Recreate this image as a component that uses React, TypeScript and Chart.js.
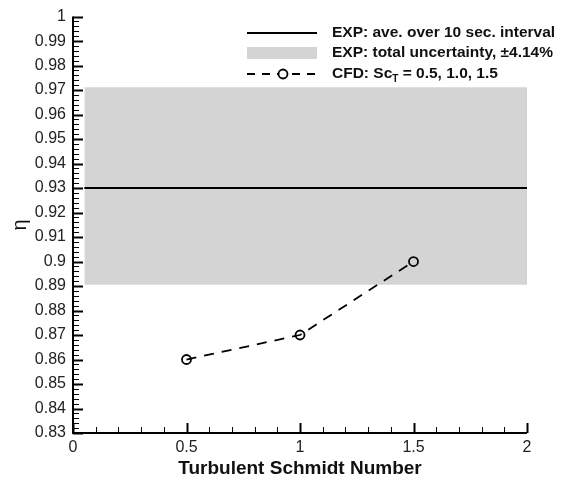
import React, { useEffect, useRef } from "react";
import { Chart, registerables } from "chart.js";

Chart.register(...registerables);

// ---- data ----
const schmidtNumbers = [0.5, 1.0, 1.5];
const cfdEta = [0.86, 0.87, 0.9];
const expMean = 0.93;
const expBandLow = 0.8905;
const expBandHigh = 0.9712;
const expXRange = [0.05, 2.0];
const xTicks = [0, 0.5, 1, 1.5, 2];
const yMin = 0.83;
const yMax = 1.0;
const yStep = 0.01;
const xStep = 0.5;
const yMinorPerMajor = 5;
const xMinorPerMajor = 5;
const legendLabels = [
  "EXP: ave. over 10 sec. interval",
  "EXP: total uncertainty, \u00b14.14%",
  "CFD: Sc",
];

const FONT = "'Liberation Sans', Arial, Helvetica, sans-serif";

const axesPlugin = {
  id: "customAxes",
  afterDatasetsDraw(chart: any) {
    const { ctx, chartArea, scales } = chart;
    const { left, right, top, bottom } = chartArea;
    const x = scales.x;
    const y = scales.y;
    ctx.save();
    ctx.strokeStyle = "#000";
    // y ticks
    const yn = Math.round((yMax - yMin) / yStep) * yMinorPerMajor;
    for (let i = 0; i <= yn; i++) {
      const v = yMin + (i * yStep) / yMinorPerMajor;
      const py = Math.round(y.getPixelForValue(v)) + 0.5;
      const major = i % yMinorPerMajor === 0;
      ctx.beginPath();
      ctx.lineWidth = major ? 2 : 1;
      ctx.moveTo(left, py);
      ctx.lineTo(left + (major ? 10 : 6), py);
      ctx.stroke();
    }
    const xn = Math.round((xTicks[xTicks.length - 1] - xTicks[0]) / xStep) * xMinorPerMajor;
    for (let i = 0; i <= xn; i++) {
      const v = xTicks[0] + (i * xStep) / xMinorPerMajor;
      const px = Math.round(x.getPixelForValue(v)) + 0.5;
      const major = i % xMinorPerMajor === 0;
      ctx.beginPath();
      ctx.lineWidth = major ? 2 : 1;
      ctx.moveTo(px, bottom);
      ctx.lineTo(px, bottom - (major ? 10 : 6));
      ctx.stroke();
    }
    // axis lines
    ctx.lineWidth = 2;
    ctx.beginPath();
    ctx.moveTo(left, top);
    ctx.lineTo(left, bottom);
    ctx.lineTo(right, bottom);
    ctx.stroke();

    // axis titles
    ctx.fillStyle = "#111";
    ctx.font = `bold 19px ${FONT}`;
    ctx.textAlign = "center";
    ctx.textBaseline = "middle";
    ctx.fillText("Turbulent Schmidt Number", (left + right) / 2, 469);
    ctx.save();
    ctx.translate(20, 225);
    ctx.rotate(-Math.PI / 2);
    ctx.font = `20px ${FONT}`;
    ctx.fillText("\u03b7", 0, 0);
    ctx.restore();

    // legend
    const sx0 = 247;
    const sx1 = 317;
    const tx = 332;
    const rows = [33, 53, 74];
    ctx.font = `bold 15.5px ${FONT}`;
    ctx.textAlign = "left";
    ctx.textBaseline = "middle";
    // row 1
    ctx.lineWidth = 2;
    ctx.setLineDash([]);
    ctx.beginPath();
    ctx.moveTo(sx0, rows[0]);
    ctx.lineTo(sx1, rows[0]);
    ctx.stroke();
    ctx.fillText(legendLabels[0], tx, rows[0]);
    // row 2
    ctx.fillStyle = "#d4d4d4";
    ctx.fillRect(sx0, rows[1] - 6, sx1 - sx0, 12);
    ctx.fillStyle = "#111";
    ctx.fillText(legendLabels[1], tx, rows[1]);
    // row 3
    ctx.lineWidth = 1.8;
    ctx.setLineDash([8, 7]);
    ctx.beginPath();
    ctx.moveTo(sx0, rows[2]);
    ctx.lineTo(sx1, rows[2]);
    ctx.stroke();
    ctx.setLineDash([]);
    ctx.beginPath();
    ctx.fillStyle = "#fff";
    ctx.arc(283, rows[2], 4.5, 0, Math.PI * 2);
    ctx.fill();
    ctx.stroke();
    ctx.fillStyle = "#111";
    ctx.fillText(legendLabels[2], tx, rows[2]);
    const w = ctx.measureText(legendLabels[2]).width;
    ctx.font = `bold 10px ${FONT}`;
    ctx.fillText("T", tx + w, rows[2] + 5);
    const wt = ctx.measureText("T").width;
    ctx.font = `bold 15.5px ${FONT}`;
    ctx.fillText(" = 0.5, 1.0, 1.5", tx + w + wt, rows[2]);
    ctx.restore();
  },
};

export default function App() {
  const ref = useRef<HTMLCanvasElement | null>(null);
  useEffect(() => {
    if (!ref.current) return;
    const chart = new Chart(ref.current, {
      type: "scatter",
      data: {
        datasets: [
          {
            type: "line",
            order: 3,
            data: expXRange.map((xv) => ({ x: xv, y: expBandHigh })),
            borderWidth: 0,
            borderColor: "rgba(0,0,0,0)",
            backgroundColor: "#d4d4d4",
            pointRadius: 0,
            fill: { value: expBandLow },
          } as any,
          {
            type: "line",
            order: 2,
            data: expXRange.map((xv) => ({ x: xv, y: expMean })),
            borderWidth: 2,
            borderColor: "#000",
            pointRadius: 0,
            fill: false,
          } as any,
          {
            type: "line",
            order: 1,
            data: schmidtNumbers.map((xv, i) => ({ x: xv, y: cfdEta[i] })),
            borderWidth: 1.8,
            borderColor: "#000",
            borderDash: [10, 8],
            pointRadius: 4.5,
            pointBorderWidth: 1.8,
            pointBorderColor: "#000",
            pointBackgroundColor: "rgba(0,0,0,0)",
            fill: false,
          } as any,
        ],
      },
      options: {
        responsive: false,
        animation: false,
        layout: { padding: { left: 0, right: 39, top: 16, bottom: 0 } },
        plugins: { legend: { display: false }, tooltip: { enabled: false } },
        scales: {
          x: {
            type: "linear",
            min: xTicks[0],
            max: xTicks[xTicks.length - 1],
            grid: { display: false, drawTicks: false },
            border: { display: false },
            ticks: {
              stepSize: xStep,
              padding: 5,
              color: "#222",
              font: { family: FONT, size: 16 },
              callback: (v: any) => String(Number(Number(v).toFixed(2))),
            },
            afterFit: (s: any) => {
              s.height = 50;
            },
          },
          y: {
            type: "linear",
            min: yMin,
            max: yMax,
            grid: { display: false, drawTicks: false },
            border: { display: false },
            ticks: {
              stepSize: yStep,
              padding: 7,
              color: "#222",
              font: { family: FONT, size: 16 },
              callback: (v: any) => String(Number(Number(v).toFixed(2))),
            },
            afterFit: (s: any) => {
              s.width = 73;
            },
          },
        },
      },
      plugins: [axesPlugin],
    } as any);
    return () => chart.destroy();
  }, []);
  return (
    <div style={{ position: "fixed", left: 0, top: 0, width: 566, height: 483, background: "#fff" }}>
      <canvas ref={ref} width={566} height={483} />
    </div>
  );
}
